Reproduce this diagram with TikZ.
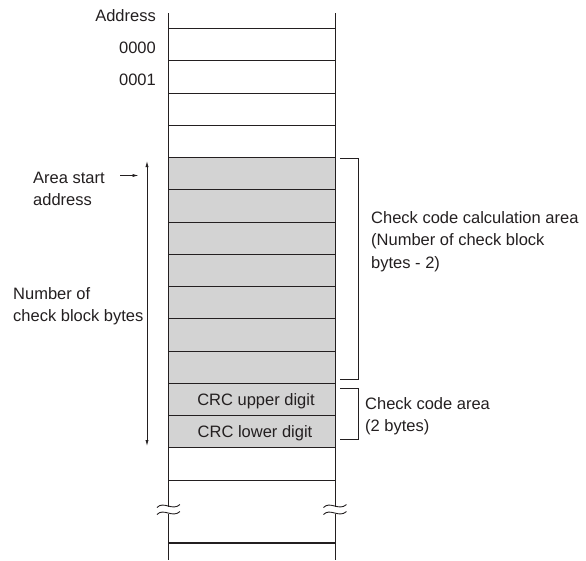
\documentclass[tikz,border=0pt]{standalone}
\usepackage{fontspec}
\setmainfont{Liberation Sans}
\usetikzlibrary{arrows.meta}
\definecolor{areagray}{RGB}{211,211,211}
\definecolor{ink}{RGB}{35,31,32}
\begin{document}
\begin{tikzpicture}[x=1pt,y=-1pt,
  lbl/.style={font=\fontsize{16.5}{22.5}\selectfont, inner sep=0pt, text=ink},
  memline/.style={line width=0.9pt, draw=ink},
  thickline/.style={line width=1.9pt, draw=ink},
  bracketline/.style={line width=0.9pt, draw=ink},
  arr/.style={line width=0.8pt, draw=ink, -{Latex[length=6pt,width=3.2pt]}},
  dblarr/.style={line width=0.8pt, draw=ink, {Latex[length=6pt,width=3.2pt]}-{Latex[length=6pt,width=3.2pt]}},
  wave/.style={line width=0.9pt, draw=ink}]
\useasboundingbox (0,0) rectangle (586,560);

% shaded area
\fill[areagray] (168,157) rectangle (335,447);

% row lines
\foreach \k in {0,...,14} {
  \draw[memline] (168,{28.5+32.25*\k}) -- (335,{28.5+32.25*\k});
}
\draw[thickline] (168,543) -- (335,543);

% column sides, broken at the wave marks
\draw[memline] (168,13) -- (168,506.5) (168,513.5) -- (168,560);
\draw[memline] (335,13) -- (335,506.5) (335,513.5) -- (335,560);

% wave marks
\foreach \cx in {168.5,335} {
  \foreach \wy in {506,513} {
    \draw[wave] (\cx-11.5,\wy+1.5) .. controls (\cx-5,\wy-5.5) and (\cx+4,\wy+5.5) .. (\cx+11.5,\wy-1.5);
  }
}

% address labels
\node[lbl, anchor=base east] (addr) at (156,21.5) {Address};
\node[lbl, anchor=base east] (a0) at (156,53) {0000};
\node[lbl, anchor=base east] (a1) at (156,85) {0001};

% CRC rows
\node[lbl, anchor=base] (crcu) at (256,405) {CRC upper digit};
\node[lbl, anchor=base] (crcl) at (255,437.5) {CRC lower digit};

% area start
\node[lbl, anchor=base west] (as1) at (33,183) {Area start};
\node[lbl, anchor=base west] (as2) at (33,205) {address};
\coordinate (asfrom) at (120,175.5);
\coordinate (asto) at (138.5,175.5);
\draw[arr] (asfrom) -- (asto);

% number of check block bytes
\node[lbl, anchor=base west] (nb1) at (13,299) {Number of};
\node[lbl, anchor=base west] (nb2) at (13,321.5) {check block bytes};
\coordinate (ntop) at (147,161);
\coordinate (nbot) at (147,446);
\draw[dblarr] (ntop) -- (nbot);

% brackets
\coordinate (b1t) at (340,158);
\coordinate (b1b) at (340,379);
\draw[bracketline] (b1t) -- (358,158) -- (358,379) -- (b1b);
\coordinate (b2t) at (340,388.5);
\coordinate (b2b) at (340,439);
\draw[bracketline] (b2t) -- (358,388.5) -- (358,439) -- (b2b);

\node[lbl, anchor=base west] (cc1) at (371,223) {Check code calculation area};
\node[lbl, anchor=base west] (cc2) at (371,245.5) {(Number of check block};
\node[lbl, anchor=base west] (cc3) at (371,268) {bytes - 2)};

\node[lbl, anchor=base west] (ca1) at (365,409) {Check code area};
\node[lbl, anchor=base west] (ca2) at (365,431.5) {(2 bytes)};
\end{tikzpicture}
\end{document}
